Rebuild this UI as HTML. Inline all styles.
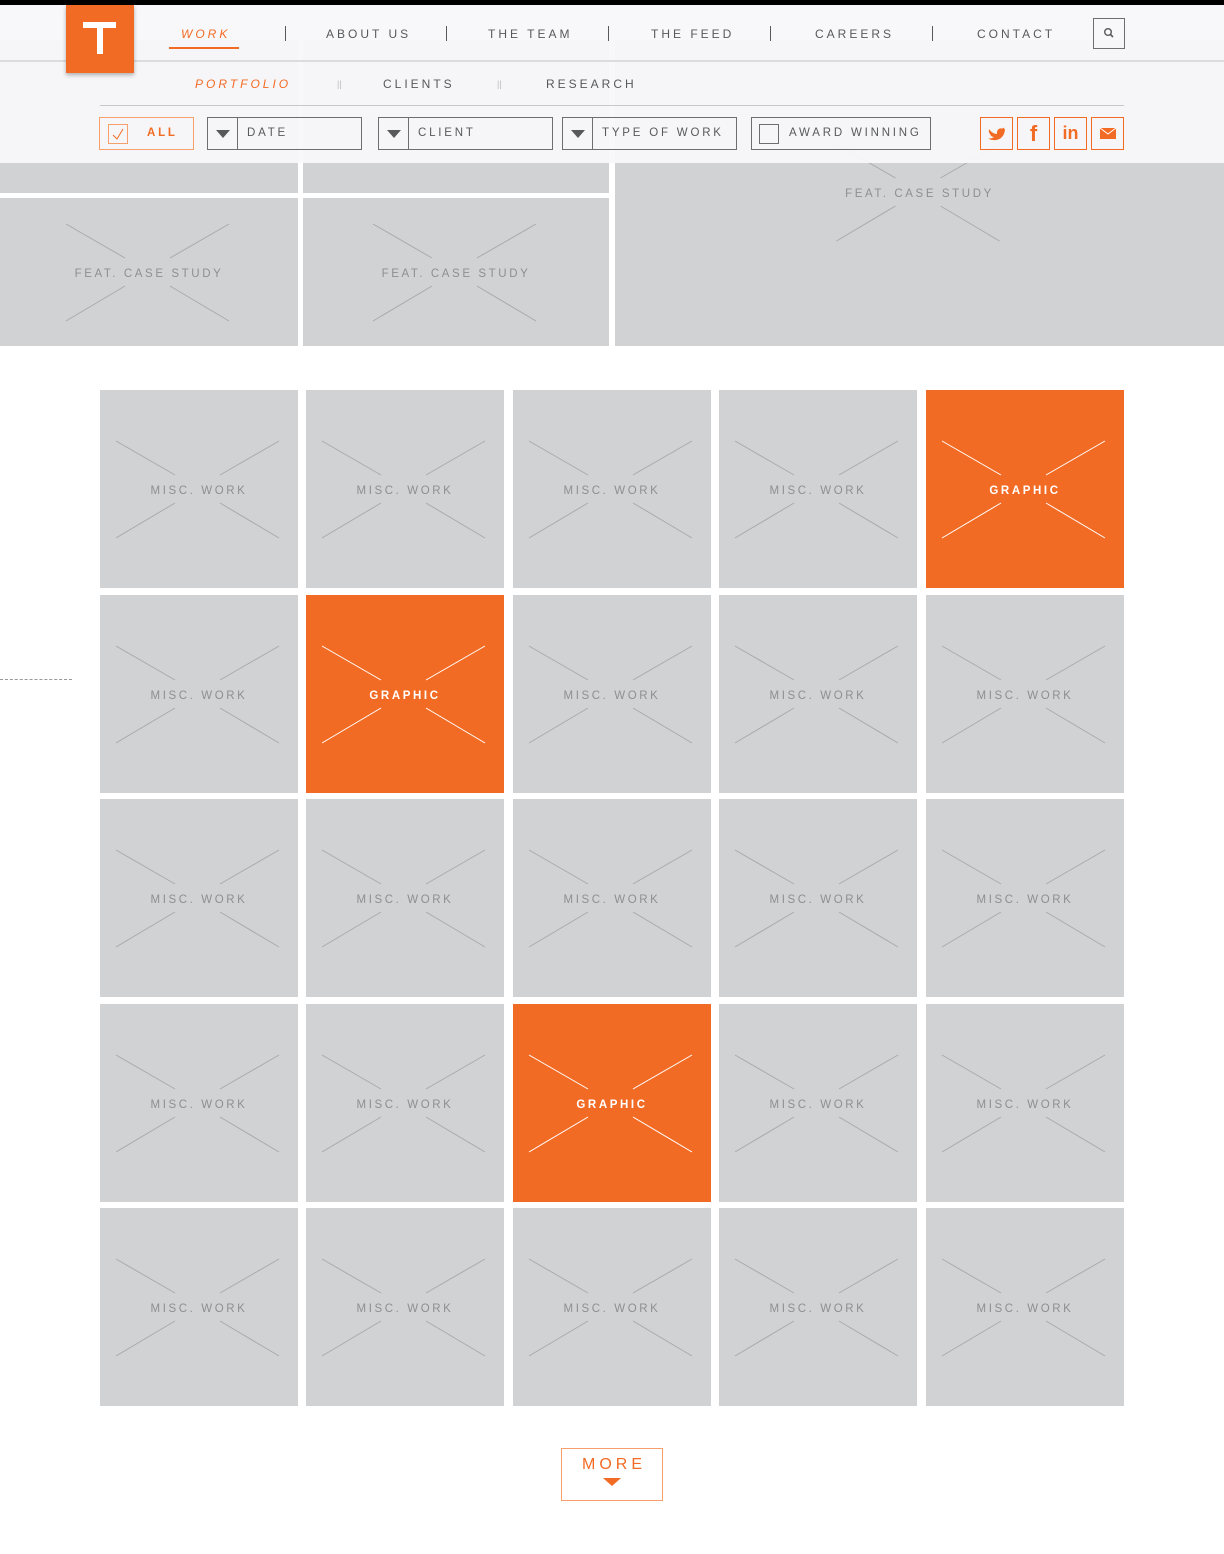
<!DOCTYPE html>
<html><head><meta charset="utf-8"><style>
*{box-sizing:border-box;margin:0;padding:0}
body{width:1224px;height:1554px;background:#fff;position:relative;overflow:hidden;font-family:"Liberation Sans",sans-serif}
.abs{position:absolute}
.tile{position:absolute;background:#d1d2d4}
.tile svg{position:absolute;left:0;top:0}
.lbl{position:absolute;left:0;right:0;text-align:center;font-size:11.5px;letter-spacing:2.6px;color:#8e8f92}
.nav{position:absolute;top:27px;font-size:12px;letter-spacing:3px;color:#58595b}
.sep{position:absolute;top:26px;width:1px;height:15px;background:#58595b}
.sub{position:absolute;top:77px;font-size:12px;letter-spacing:3px;color:#58595b}
.flt{position:absolute;top:117px;height:33px;border:1px solid #6d6e71;font-size:11.5px;letter-spacing:2.8px;color:#58595b}
.soc{position:absolute;top:117px;width:33px;height:33px;border:1px solid #f26b24;color:#f26b24;font-weight:bold;text-align:center}
</style></head><body>
<div class="abs" style="left:0;top:0;width:1224px;height:5px;background:#000"></div>
<div id="featured"></div>
<div id="grid"></div>
<div class="abs" style="left:0;top:679px;width:72px;border-top:1px dashed #999"></div>

<div class="abs" style="left:0;top:5px;width:1224px;height:158px;background:rgba(248,248,250,0.94)"></div>
<div class="abs" style="left:0;top:60px;width:1224px;height:2px;background:#dcdcde"></div>
<div class="abs" style="left:66px;top:5px;width:68px;height:68px;background:#f26b24;box-shadow:0 2px 4px rgba(0,0,0,.3)">
 <div class="abs" style="left:17px;top:17px;width:33px;height:6px;background:#fff"></div>
 <div class="abs" style="left:31px;top:17px;width:6px;height:32px;background:#fff"></div>
</div>
<div class="nav" style="left:181px;color:#f26b24;font-style:italic">WORK</div>
<div class="abs" style="left:169px;top:47px;width:70px;height:2px;background:#f26b24"></div>
<div class="sep" style="left:285px"></div>
<div class="nav" style="left:326px">ABOUT US</div>
<div class="sep" style="left:446px"></div>
<div class="nav" style="left:488px">THE TEAM</div>
<div class="sep" style="left:608px"></div>
<div class="nav" style="left:651px">THE FEED</div>
<div class="sep" style="left:770px"></div>
<div class="nav" style="left:815px">CAREERS</div>
<div class="sep" style="left:932px"></div>
<div class="nav" style="left:977px">CONTACT</div>
<div class="abs" style="left:1093px;top:18px;width:32px;height:31px;border:1px solid #6d6e71">
 <svg width="30" height="29"><circle cx="14" cy="13" r="3.3" fill="none" stroke="#58595b" stroke-width="1.4"/><line x1="16.5" y1="15.5" x2="19" y2="18" stroke="#58595b" stroke-width="1.6"/></svg>
</div>
<div class="sub" style="left:195px;color:#f26b24;font-style:italic">PORTFOLIO</div>
<div class="sub" style="left:337px;color:#bbb;letter-spacing:0;font-size:9px;top:79px">||</div>
<div class="sub" style="left:383px">CLIENTS</div>
<div class="sub" style="left:497px;color:#bbb;letter-spacing:0;font-size:9px;top:79px">||</div>
<div class="sub" style="left:546px">RESEARCH</div>
<div class="abs" style="left:100px;top:105px;width:1024px;height:1px;background:#c8c8ca"></div>

<div class="flt" style="left:99px;width:95px;border-color:#f7a06e;color:#f26b24;font-weight:bold">
 <div class="abs" style="left:8px;top:6px;width:20px;height:20px;border:1px solid #f7a06e"><svg width="18" height="18"><polyline points="4,10 8,14 14,4" fill="none" stroke="#f26b24" stroke-width="1"/></svg></div>
 <span class="abs" style="left:47px;top:9px">ALL</span></div>
<div class="flt" style="left:207px;width:155px"><div class="abs" style="left:0;top:0;width:30px;height:31px;border-right:1px solid #6d6e71"><svg width="29" height="31"><polygon points="8,12 22,12 15,20" fill="#58595b"/></svg></div><span class="abs" style="left:39px;top:9px">DATE</span></div>
<div class="flt" style="left:378px;width:175px"><div class="abs" style="left:0;top:0;width:30px;height:31px;border-right:1px solid #6d6e71"><svg width="29" height="31"><polygon points="8,12 22,12 15,20" fill="#58595b"/></svg></div><span class="abs" style="left:39px;top:9px">CLIENT</span></div>
<div class="flt" style="left:562px;width:175px"><div class="abs" style="left:0;top:0;width:30px;height:31px;border-right:1px solid #6d6e71"><svg width="29" height="31"><polygon points="8,12 22,12 15,20" fill="#58595b"/></svg></div><span class="abs" style="left:39px;top:9px">TYPE OF WORK</span></div>
<div class="flt" style="left:751px;width:180px"><div class="abs" style="left:7px;top:6px;width:20px;height:20px;border:1px solid #6d6e71"></div><span class="abs" style="left:37px;top:9px">AWARD WINNING</span></div>
<div class="soc" style="left:980px"><svg width="31" height="31"><path d="M8,11 C10,14 13,16 16,16 C15.5,12 18,10 20.5,10.5 C21.5,10.5 22.5,10 23.5,9.5 C23,10.5 23,11 24,11.5 C23.5,18 19,23 12,22 C10,22 8.5,21.5 7.5,20.5 C10,20.7 11.5,20 13,19 C11,19 9.5,17.5 9,16 C8,15 7.5,13 8,11 Z" fill="#f26b24"/></svg></div>
<div class="soc" style="left:1017px;font-size:22px;line-height:31px">f</div>
<div class="soc" style="left:1054px;font-size:18px;line-height:31px">in</div>
<div class="soc" style="left:1091px"><svg width="31" height="31"><rect x="8" y="10" width="16" height="11" fill="#f26b24"/><polyline points="8,10 16,16 24,10" fill="none" stroke="#fff" stroke-width="1"/></svg></div>

<div class="abs" style="left:561px;top:1448px;width:102px;height:53px;border:1px solid #f7a06e;text-align:center">
 <div style="margin-top:7px;font-size:16px;letter-spacing:4px;color:#f26b24;padding-left:4px">MORE</div>
 <svg width="20" height="10" style="margin-top:2px"><polygon points="1,1 19,1 10,9" fill="#f26b24"/></svg>
</div>

<script>
const featTiles=[[0,40,298,153,""],[303,40,306,153,""],[615,40,609,306,"FEAT. CASE STUDY"],[0,198,298,148,"FEAT. CASE STUDY"],[303,198,306,148,"FEAT. CASE STUDY"]];
const gridCols=[100,306,513,719,926];
const gridRows=[390,595,799,1004,1208];
const graphicCells=[[0,4],[1,1],[3,2]];
function mkTile(parent,x,y,w,h,label,orange,ty){
 const d=document.createElement('div');
 d.className='tile';
 
 
 d.style.cssText=`left:${x}px;top:${y}px;width:${w}px;height:${h}px;background:${orange?'#f26b24':'#d1d2d4'}`;
 const cx=w/2,cy=ty;const sc=orange?'#fff':'#a9aaad';
 const lines=[[cx-83,cy-48,cx-24,cy-14],[cx+21,cy-14,cx+80,cy-48],[cx-83,cy+49,cx-24,cy+14],[cx+21,cy+14,cx+80,cy+49]];
 let s=`<svg width="${w}" height="${h}">`;
 if(label)lines.forEach(l=>s+=`<line x1="${l[0]}" y1="${l[1]}" x2="${l[2]}" y2="${l[3]}" stroke="${sc}" stroke-width="1"/>`);
 s+='</svg>';
 d.innerHTML=s+(label?`<div class="lbl" style="top:${cy-4}px;${orange?'color:#fff;font-weight:bold':''}">${label}</div>`:'');
 parent.appendChild(d);
}
const F=document.getElementById('featured');
featTiles.forEach(t=>mkTile(F,t[0],t[1],t[2],t[3],t[4],false,t[4]&&t[1]==40?152:74));
const G=document.getElementById('grid');
gridRows.forEach((y,r)=>gridCols.forEach((x,c)=>{
 const o=graphicCells.some(g=>g[0]==r&&g[1]==c);
 mkTile(G,x,y,198,198,o?'GRAPHIC':'MISC. WORK',o,99);
}));
</script>
</body></html>
